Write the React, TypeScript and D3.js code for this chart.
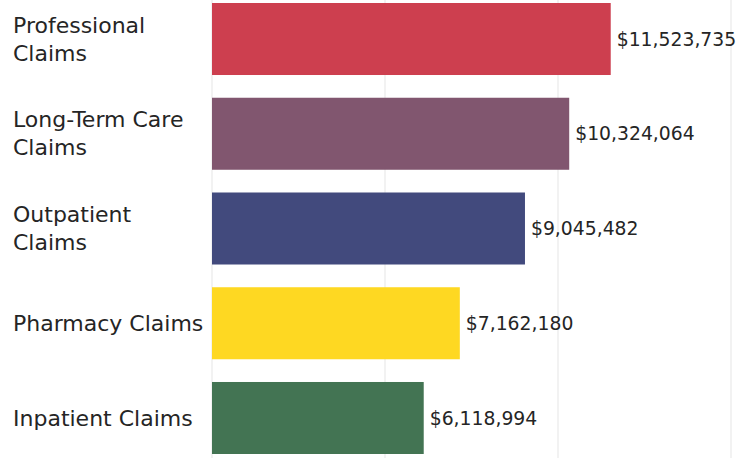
import { useEffect } from "react";
import * as d3 from "d3";

const categories = [
  "Professional Claims",
  "Long-Term Care Claims",
  "Outpatient Claims",
  "Pharmacy Claims",
  "Inpatient Claims",
];
const labelLines = [
  ["Professional", "Claims"],
  ["Long-Term Care", "Claims"],
  ["Outpatient", "Claims"],
  ["Pharmacy Claims"],
  ["Inpatient Claims"],
];
const values = [11523735, 10324064, 9045482, 7162180, 6118994];
const barColors = ["#CD3F4F", "#81566F", "#424A7D", "#FED822", "#437453"];
const gridTicks = [0, 5000000, 10000000, 15000000];

const width = 747;
const height = 458;
const font = "'DejaVu Sans', sans-serif";

export default function App() {
  useEffect(() => {
    document.body.style.margin = "0";
  }, []);

  const x = d3.scaleLinear().domain([0, 15000000]).range([212, 731]);
  const y = d3
    .scaleBand<string>()
    .domain(categories)
    .range([3, 454])
    .paddingInner(0.24)
    .paddingOuter(0);

  const fmt = d3.format("$,.0f");
  const lineH = 28;

  return (
    <svg width={width} height={height} style={{ display: "block", background: "#fff" }}>
      {/* gridlines */}
      {gridTicks.map((t) => (
        <line
          key={t}
          x1={x(t)}
          x2={x(t)}
          y1={0}
          y2={height}
          stroke="#EEEEEE"
          strokeWidth={1.5}
        />
      ))}

      {categories.map((c, i) => {
        const y0 = y(c)!;
        const cy = y0 + y.bandwidth() / 2;
        const lines = labelLines[i];
        const startY = cy - ((lines.length - 1) * lineH) / 2;
        return (
          <g key={c}>
            <rect
              x={x(0)}
              y={y0}
              width={x(values[i]) - x(0)}
              height={y.bandwidth()}
              fill={barColors[i]}
            />
            <text
              x={x(values[i]) + 6}
              y={cy}
              dy="0.35em"
              fontFamily={font}
              fontSize={18.8}
              fill="#252525"
            >
              {fmt(values[i])}
            </text>
            <text fontFamily={font} fontSize={22} fill="#252525">
              {lines.map((l, j) => (
                <tspan key={j} x={13} y={startY + j * lineH} dy="0.35em">
                  {l}
                </tspan>
              ))}
            </text>
          </g>
        );
      })}
    </svg>
  );
}
